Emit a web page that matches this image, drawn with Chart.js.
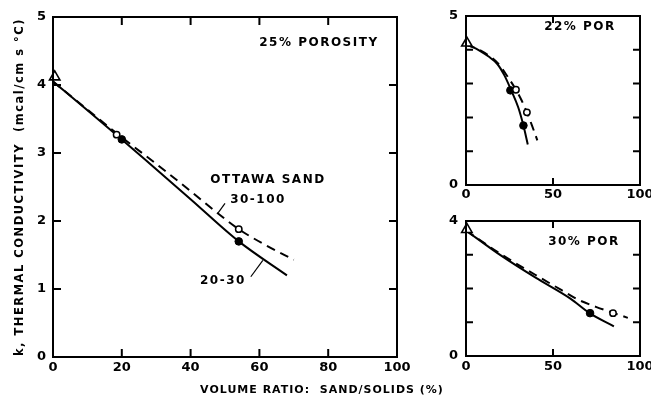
<!DOCTYPE html>
<html><head><meta charset="utf-8">
<script src="https://cdn.jsdelivr.net/npm/chart.js@4.4.1/dist/chart.umd.min.js"></script>
<style>
html,body{margin:0;padding:0;background:#fff;overflow:hidden;width:651px;height:403px}
canvas{position:absolute}
#c1{left:0;top:0}
#c2{left:420px;top:0}
#c3{left:420px;top:205px}
</style></head><body>
<canvas id="c1" width="651" height="403"></canvas>
<canvas id="c2" width="240" height="205"></canvas>
<canvas id="c3" width="240" height="198"></canvas>
<script>
// ---------- DATA ----------
// 25% porosity (main panel)
const p25_2030_x = [0, 10, 20, 30, 40, 54, 68];
const p25_2030_y = [4.05, 3.63, 3.2, 2.76, 2.32, 1.7, 1.2];
const p25_30100_x = [0, 20, 30, 40, 47, 54, 62, 70];
const p25_30100_y = [4.05, 3.23, 2.84, 2.44, 2.15, 1.88, 1.64, 1.43];
const p25_tri_x = [0.5];
const p25_tri_y = [4.12];
const p25_open_x = [18.5, 54];
const p25_open_y = [3.27, 1.88];
const p25_fill_x = [20, 54];
const p25_fill_y = [3.2, 1.7];

// 22% porosity (top right)
const p22_2030_x = [0, 4, 8, 13, 18, 22, 26, 30, 33, 35.5];
const p22_2030_y = [4.15, 4.08, 3.97, 3.8, 3.58, 3.25, 2.8, 2.3, 1.76, 1.2];
const p22_30100_x = [0, 8, 18, 24, 28.7, 32, 35, 38, 41];
const p22_30100_y = [4.15, 3.99, 3.62, 3.2, 2.82, 2.5, 2.15, 1.75, 1.32];
const p22_tri_x = [0.5];
const p22_tri_y = [4.2];
const p22_open_x = [28.7, 35];
const p22_open_y = [2.82, 2.15];
const p22_fill_x = [25.5, 33];
const p22_fill_y = [2.8, 1.76];

// 30% porosity (bottom right)
const p30_2030_x = [0, 20, 40, 60, 71, 85];
const p30_2030_y = [3.72, 2.98, 2.32, 1.7, 1.27, 0.88];
const p30_30100_x = [0, 20, 40, 55, 64, 75, 84.5, 93];
const p30_30100_y = [3.72, 3.02, 2.4, 1.95, 1.68, 1.45, 1.28, 1.13];
const p30_tri_x = [0.5];
const p30_tri_y = [3.75];
const p30_open_x = [84.5];
const p30_open_y = [1.27];
const p30_fill_x = [71.3];
const p30_fill_y = [1.27];

// axis tick labels shown
const mainYLabels = [0, 1, 2, 3, 4, 5];
const p22YLabels = [0, 5];
const p30YLabels = [0, 4];

// ---------- HELPERS ----------
const FONT = 'DejaVu Sans';
const pts = (xs, ys) => xs.map((x, i) => ({x, y: ys[i]}));
function lineDS(xs, ys, dashed) {
  return {type: 'line', data: pts(xs, ys), borderColor: '#000', borderWidth: 2,
    borderDash: dashed ? [9, 6] : [], pointRadius: 0, showLine: true,
    cubicInterpolationMode: 'monotone', fill: false, order: 2};
}
function markerDS(xs, ys, kind) {
  const base = {type: 'scatter', data: pts(xs, ys), borderColor: '#000', showLine: false, order: 0, clip: false};
  if (kind === 'tri') return Object.assign(base, {pointStyle: 'triangle', pointRadius: 6, pointBackgroundColor: '#fff', pointBorderWidth: 1.6});
  if (kind === 'open') return Object.assign(base, {pointStyle: 'circle', pointRadius: 3.2, pointBackgroundColor: '#fff', pointBorderWidth: 1.5});
  return Object.assign(base, {pointStyle: 'circle', pointRadius: 3.8, pointBackgroundColor: '#000', pointBorderWidth: 1});
}

const framePlugin = {
  id: 'frame',
  afterDatasetsDraw(chart, args, opts) {
    const {ctx, chartArea: {left, right, top, bottom}, scales: {x, y}} = chart;
    ctx.save();
    ctx.strokeStyle = '#000'; ctx.lineWidth = 2;
    ctx.strokeRect(left, top, right - left, bottom - top);
    const L = opts.tick || 8;
    ctx.beginPath();
    x.ticks.forEach((t, i) => {
      const p = x.getPixelForTick(i);
      if (p <= left + 1 || p >= right - 1) return;
      ctx.moveTo(p, bottom); ctx.lineTo(p, bottom - L);
      ctx.moveTo(p, top); ctx.lineTo(p, top + L);
    });
    y.ticks.forEach((t, i) => {
      const p = y.getPixelForTick(i);
      if (p <= top + 1 || p >= bottom - 1) return;
      ctx.moveTo(left, p); ctx.lineTo(left + L, p);
      ctx.moveTo(right, p); ctx.lineTo(right - L, p);
    });
    ctx.stroke();
    // leader lines (data coords)
    ctx.lineWidth = 1.2;
    (opts.leaders || []).forEach(l => {
      ctx.beginPath();
      ctx.moveTo(x.getPixelForValue(l[0]), y.getPixelForValue(l[1]));
      ctx.lineTo(x.getPixelForValue(l[2]), y.getPixelForValue(l[3]));
      ctx.stroke();
    });
    // text labels in data coords
    ctx.fillStyle = '#000';
    ctx.textAlign = 'center'; ctx.textBaseline = 'middle';
    (opts.labels || []).forEach(l => {
      ctx.font = 'bold ' + (l.size || 12) + 'px ' + FONT;
      ctx.letterSpacing = (l.ls !== undefined ? l.ls : 1.5) + 'px';
      ctx.fillText(l.text, x.getPixelForValue(l.x), y.getPixelForValue(l.y));
    });
    // pixel-positioned titles
    (opts.titles || []).forEach(l => {
      ctx.save();
      ctx.font = 'bold ' + (l.size || 12) + 'px ' + FONT;
      ctx.letterSpacing = (l.ls !== undefined ? l.ls : 1.5) + 'px';
      const cy = l.py === 'center' ? (top + bottom) / 2 : l.py;
      ctx.translate(l.px, cy);
      if (l.rot) ctx.rotate(l.rot);
      ctx.fillText(l.text, 0, 0);
      ctx.restore();
    });
    ctx.restore();
  }
};

function makeChart(id, c) {
  return new Chart(document.getElementById(id), {
    type: 'scatter',
    data: {datasets: c.datasets},
    plugins: [framePlugin],
    options: {
      responsive: false, animation: false, devicePixelRatio: 1,
      layout: {padding: c.padding},
      plugins: {legend: {display: false}, tooltip: {enabled: false},
        frame: {labels: c.labels, leaders: c.leaders, titles: c.titles, tick: c.tick}},
      scales: {
        x: {type: 'linear', min: 0, max: c.xMax,
          ticks: {stepSize: c.xStep, color: '#000', padding: c.xPad, maxRotation: 0, autoSkip: false,
            font: {family: FONT, size: 13, weight: 'bold'}},
          grid: {display: false, drawTicks: false, tickLength: 0}, border: {display: false},
          afterFit: s => { s.height = c.xHeight; }},
        y: {type: 'linear', min: 0, max: c.yMax,
          ticks: {stepSize: 1, color: '#000', padding: c.yPad, autoSkip: false,
            font: {family: FONT, size: 13, weight: 'bold'},
            callback: v => c.yLabels.includes(v) ? String(v) : ''},
          grid: {display: false, drawTicks: false, tickLength: 0}, border: {display: false},
          afterFit: s => { s.width = c.yWidth; }}
      }
    }
  });
}

// main panel: chart area 53..397 x 17..357
makeChart('c1', {
  xMax: 100, xStep: 20, yMax: 5, yLabels: mainYLabels,
  padding: {top: 17, right: 254, bottom: 0, left: 0},
  xHeight: 46, yWidth: 53, xPad: 3, yPad: 7, tick: 8,
  datasets: [
    markerDS(p25_tri_x, p25_tri_y, 'tri'),
    markerDS(p25_open_x, p25_open_y, 'open'),
    markerDS(p25_fill_x, p25_fill_y, 'fill'),
    lineDS(p25_2030_x, p25_2030_y, false),
    lineDS(p25_30100_x, p25_30100_y, true)
  ],
  labels: [
    {text: '25% POROSITY', x: 77.3, y: 4.62},
    {text: 'OTTAWA SAND', x: 62.5, y: 2.6},
    {text: '30-100', x: 59.6, y: 2.31},
    {text: '20-30', x: 49.4, y: 1.12}
  ],
  leaders: [[50, 2.26, 48, 2.12], [57.5, 1.18, 61, 1.42]],
  titles: [
    {text: 'k, THERMAL CONDUCTIVITY  (mcal/cm s °C)', px: 20, py: 'center', rot: -Math.PI / 2, size: 11.5},
    {text: 'VOLUME RATIO:  SAND/SOLIDS (%)', px: 322, py: 390, size: 11, ls: 1}
  ]
});

// 22% panel: chart area 466..640 x 16..185 (canvas left 420)
makeChart('c2', {
  xMax: 100, xStep: 50, yMax: 5, yLabels: p22YLabels,
  padding: {top: 16, right: 20, bottom: 0, left: 0},
  xHeight: 20, yWidth: 46, xPad: 2, yPad: 8, tick: 7,
  datasets: [
    markerDS(p22_tri_x, p22_tri_y, 'tri'),
    markerDS(p22_open_x, p22_open_y, 'open'),
    markerDS(p22_fill_x, p22_fill_y, 'fill'),
    lineDS(p22_2030_x, p22_2030_y, false),
    lineDS(p22_30100_x, p22_30100_y, true)
  ],
  labels: [{text: '22% POR', x: 65.5, y: 4.67}]
});

// 30% panel: chart area 466..640 x 221..356 (canvas top 205)
makeChart('c3', {
  xMax: 100, xStep: 50, yMax: 4, yLabels: p30YLabels,
  padding: {top: 16, right: 20, bottom: 0, left: 0},
  xHeight: 47, yWidth: 46, xPad: 3, yPad: 8, tick: 7,
  datasets: [
    markerDS(p30_tri_x, p30_tri_y, 'tri'),
    markerDS(p30_open_x, p30_open_y, 'open'),
    markerDS(p30_fill_x, p30_fill_y, 'fill'),
    lineDS(p30_2030_x, p30_2030_y, false),
    lineDS(p30_30100_x, p30_30100_y, true)
  ],
  labels: [{text: '30% POR', x: 67.8, y: 3.38}]
});
</script>
</body></html>
